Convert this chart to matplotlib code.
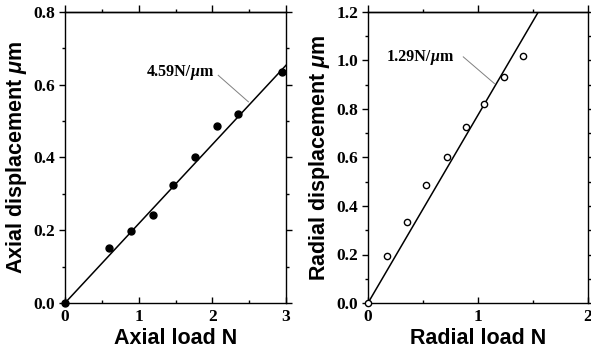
import matplotlib
matplotlib.use("Agg")
import matplotlib.pyplot as plt
import numpy as np
from matplotlib.ticker import MultipleLocator

plt.rcParams['mathtext.fontset'] = 'custom'
plt.rcParams['mathtext.it'] = 'Liberation Sans:bold:italic'
plt.rcParams['mathtext.rm'] = 'Liberation Sans:bold'

# Axial data
axial_load = [0.0, 0.60, 0.89, 1.19, 1.47, 1.77, 2.06, 2.35, 2.94]
axial_disp = [0.0, 0.151, 0.199, 0.243, 0.325, 0.402, 0.486, 0.519, 0.635]
axial_stiffness = 4.59  # N/um
axial_fit_x = [0.0, 3.0]

# Radial data
radial_load = [0.0, 0.173, 0.359, 0.529, 0.714, 0.888, 1.058, 1.240, 1.413]
radial_disp = [0.0, 0.195, 0.332, 0.485, 0.602, 0.724, 0.819, 0.934, 1.018]
radial_stiffness = 1.29  # N/um
radial_fit_x = [0.0, 1.6]

fig = plt.figure(figsize=(5.91, 3.54), dpi=100)
ax1 = fig.add_axes([65/591, 51/354, 221/591, 291/354])
ax2 = fig.add_axes([368/591, 51/354, 220/591, 291/354])

TICK_FAMILY = 'Liberation Serif'
TICK_SIZE = 12.5
label_font = dict(family='Liberation Sans', weight='bold', size=15.5)
ANN_SIZE = 11.5

def style(ax, xmax, ymax, xmajor, xminor, ymajor, yminor, yfmt):
    ax.set_xlim(0, xmax)
    ax.set_ylim(0, ymax)
    ax.xaxis.set_major_locator(MultipleLocator(xmajor))
    ax.xaxis.set_minor_locator(MultipleLocator(xminor))
    ax.yaxis.set_major_locator(MultipleLocator(ymajor))
    ax.yaxis.set_minor_locator(MultipleLocator(yminor))
    ax.yaxis.set_major_formatter(plt.FormatStrFormatter(yfmt))
    ax.tick_params(axis='x', which='both', direction='in', bottom=True, top=False, pad=4.5)
    ax.tick_params(axis='x', which='major', length=4, width=1)
    ax.tick_params(axis='x', which='minor', length=2, width=1)
    ax.tick_params(axis='y', which='both', direction='out', left=True, right=True, pad=3)
    ax.tick_params(axis='y', which='major', length=4, width=1)
    ax.tick_params(axis='y', which='minor', length=2, width=1)
    for s in ax.spines.values():
        s.set_linewidth(1)
    for lab in ax.get_xticklabels() + ax.get_yticklabels():
        lab.set_fontfamily(TICK_FAMILY)
        lab.set_fontweight('bold')
        lab.set_fontsize(TICK_SIZE)
    # top ticks pointing outward
    sec = ax.secondary_xaxis('top')
    sec.xaxis.set_major_locator(MultipleLocator(xmajor))
    sec.xaxis.set_minor_locator(MultipleLocator(xminor))
    sec.tick_params(which='both', direction='out', labeltop=False)
    sec.tick_params(which='major', length=5, width=1)
    sec.tick_params(which='minor', length=2, width=1)
    sec.spines['top'].set_linewidth(1)

style(ax1, 3.0, 0.8, 1, 0.5, 0.2, 0.1, '%.1f')
style(ax2, 2.0, 1.2, 1, 0.5, 0.2, 0.1, '%.1f')

# Axial plot
xf = np.array(axial_fit_x)
ax1.plot(xf, xf / axial_stiffness, color='black', lw=1.1)
ax1.plot(axial_load, axial_disp, 'o', color='black', ms=5, clip_on=False, zorder=5)
ax1.plot([2.08, 2.49], [0.626, 0.553], color='gray', lw=0.7)
ax1.set_xlabel('Axial load N', **label_font, labelpad=2)
ax1.set_ylabel(r'Axial displacement $\mu$m', **label_font, labelpad=3)

# Radial plot
xr = np.array(radial_fit_x)
ax2.plot(xr, xr / radial_stiffness, color='black', lw=1.1)
ax2.plot(radial_load, radial_disp, 'o', mfc='white', mec='black', mew=1, ms=4.5,
         clip_on=False, zorder=5)
ax2.plot([0.866, 1.149], [1.015, 0.905], color='gray', lw=0.7)
ax2.set_xlabel('Radial load N', **label_font, labelpad=2)
ax2.set_ylabel(r'Radial displacement $\mu$m', **label_font, labelpad=3)

fig.canvas.draw()
renderer = fig.canvas.get_renderer()

def put_rate(ax, x, y, num):
    inv = ax.transData.inverted()
    t = ax.text(x, y, num + 'N/', fontfamily=TICK_FAMILY, fontweight='bold',
                fontsize=ANN_SIZE, ha='left', va='center')
    bb = t.get_window_extent(renderer=renderer)
    x2 = inv.transform((bb.x1, bb.y0))[0]
    t2 = ax.text(x2, y, 'μ', fontfamily=TICK_FAMILY, fontweight='bold',
                 style='italic', fontsize=ANN_SIZE, ha='left', va='center')
    bb2 = t2.get_window_extent(renderer=renderer)
    x3 = inv.transform((bb2.x1, bb2.y0))[0]
    ax.text(x3, y, 'm', fontfamily=TICK_FAMILY, fontweight='bold',
            fontsize=ANN_SIZE, ha='left', va='center')

put_rate(ax1, 1.11, 0.635, '4.59')
put_rate(ax2, 0.167, 1.015, '1.29')

fig.savefig('out.png', dpi=100)
